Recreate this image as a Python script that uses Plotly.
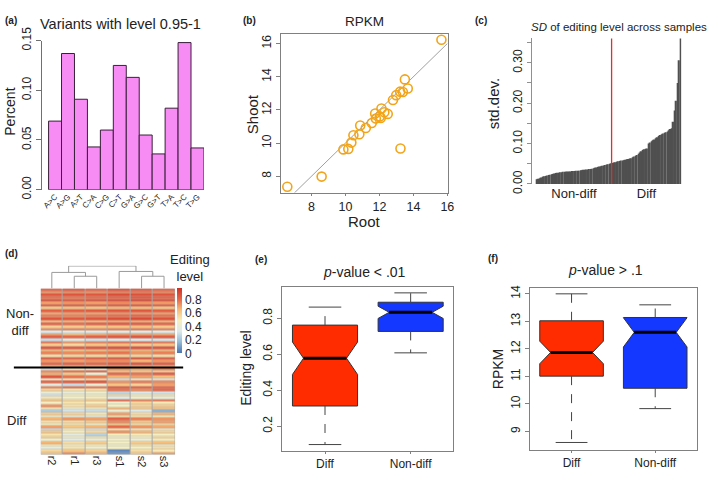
import plotly.graph_objects as go

W, H = 709, 477
def px(x): return x / W
def py(y): return 1 - y / H

FONT = "Liberation Sans, Arial, sans-serif"
TXT = "#222222"

# ---------------- (a) variants histogram ----------------
mut_types = ["A>C", "A>G", "A>T", "C>A", "C>G", "C>T", "G>A", "G>C", "G>T", "T>A", "T>C", "T>G"]
mut_percent = [0.069, 0.137, 0.091, 0.043, 0.060, 0.125, 0.113, 0.055, 0.036, 0.082, 0.148, 0.042]
a_yticks = [0.00, 0.05, 0.10, 0.15]

# ---------------- (b) RPKM root vs shoot ----------------
root_rpkm = [6.58, 8.60, 9.88, 10.17, 10.35, 10.47, 10.82, 10.87, 11.20, 11.55, 11.75, 11.79, 12.02,
             12.12, 12.08, 12.29, 12.49, 12.80, 12.99, 13.24, 13.22, 13.38, 13.50, 13.67, 15.65]
shoot_rpkm = [7.37, 7.98, 9.62, 9.65, 10.03, 10.47, 10.53, 11.06, 10.91, 11.21, 11.78, 11.48, 11.61,
              12.09, 11.52, 11.86, 11.76, 12.60, 12.89, 9.67, 13.10, 13.08, 13.84, 13.29, 16.23]
b_xrange = [6.22, 16.01]
b_yrange = [7.02, 16.58]
b_ticks = [8, 10, 12, 14, 16]

# ---------------- (c) SD of editing level ----------------
sd_nondiff = [0.012, 0.013, 0.014, 0.016, 0.018, 0.019, 0.020, 0.021, 0.022, 0.023,
              0.024, 0.025, 0.026, 0.027, 0.028, 0.028, 0.029, 0.029, 0.030, 0.030,
              0.030, 0.031, 0.031, 0.031, 0.032, 0.032, 0.032, 0.033, 0.033, 0.033,
              0.034, 0.034, 0.035, 0.035, 0.036, 0.036, 0.037, 0.037, 0.038, 0.039,
              0.040, 0.041, 0.042, 0.043, 0.044, 0.045, 0.046, 0.047, 0.048, 0.049,
              0.050, 0.051]
sd_diff = [0.052, 0.053, 0.054, 0.055, 0.056, 0.057, 0.058, 0.058, 0.059, 0.060,
           0.061, 0.062, 0.063, 0.064, 0.066, 0.068, 0.070, 0.072, 0.075, 0.078,
           0.081, 0.084, 0.086, 0.087, 0.088, 0.100, 0.103, 0.106, 0.108, 0.110,
           0.113, 0.116, 0.119, 0.121, 0.123, 0.125, 0.127, 0.128, 0.130, 0.133,
           0.136, 0.138, 0.154, 0.182, 0.206, 0.250, 0.306, 0.360]
c_yticks = [0.00, 0.05, 0.10, 0.15, 0.20, 0.25, 0.30, 0.35]
c_yticktext = ["0.00", "", "0.10", "", "0.20", "", "0.30", ""]
c_groups = ["Non-diff", "Diff"]

# ---------------- (d) heatmap ----------------
samples = ["r2", "r1", "r3", "s1", "s2", "s3"]
edit_nondiff = [
    [0.80, 0.82, 0.80, 0.84, 0.82, 0.80],
    [0.72, 0.74, 0.73, 0.76, 0.78, 0.75],
    [0.85, 0.86, 0.85, 0.88, 0.87, 0.86],
    [0.78, 0.77, 0.79, 0.80, 0.83, 0.80],
    [0.88, 0.87, 0.88, 0.90, 0.91, 0.89],
    [0.70, 0.72, 0.70, 0.74, 0.72, 0.71],
    [0.84, 0.85, 0.83, 0.86, 0.86, 0.84],
    [0.62, 0.64, 0.63, 0.66, 0.65, 0.63],
    [0.82, 0.83, 0.84, 0.85, 0.85, 0.83],
    [0.68, 0.70, 0.69, 0.72, 0.71, 0.70],
    [0.76, 0.75, 0.77, 0.79, 0.80, 0.78],
    [0.86, 0.85, 0.86, 0.88, 0.89, 0.87],
    [0.64, 0.66, 0.65, 0.68, 0.67, 0.66],
    [0.80, 0.79, 0.81, 0.83, 0.82, 0.80],
    [0.58, 0.60, 0.61, 0.62, 0.63, 0.60],
    [0.74, 0.76, 0.75, 0.77, 0.78, 0.76],
    [0.32, 0.35, 0.34, 0.36, 0.35, 0.34],
    [0.70, 0.64, 0.68, 0.72, 0.70, 0.69],
    [0.82, 0.80, 0.82, 0.84, 0.85, 0.83],
    [0.28, 0.36, 0.30, 0.33, 0.32, 0.31],
    [0.78, 0.72, 0.76, 0.79, 0.80, 0.78],
    [0.60, 0.56, 0.62, 0.64, 0.60, 0.62],
    [0.84, 0.83, 0.84, 0.86, 0.86, 0.85],
    [0.66, 0.62, 0.64, 0.68, 0.66, 0.66],
    [0.75, 0.74, 0.76, 0.78, 0.72, 0.76],
    [0.55, 0.58, 0.57, 0.60, 0.58, 0.56],
    [0.86, 0.84, 0.85, 0.87, 0.88, 0.86],
    [0.72, 0.70, 0.73, 0.74, 0.66, 0.72],
    [0.80, 0.81, 0.80, 0.83, 0.84, 0.82],
    [0.65, 0.67, 0.66, 0.70, 0.68, 0.67],
]
edit_diff = [
    [0.30, 0.45, 0.40, 0.72, 0.68, 0.75],
    [0.74, 0.80, 0.82, 0.62, 0.60, 0.58],
    [0.68, 0.62, 0.42, 0.80, 0.78, 0.82],
    [0.85, 0.78, 0.76, 0.66, 0.70, 0.64],
    [0.44, 0.50, 0.55, 0.30, 0.40, 0.35],
    [0.80, 0.82, 0.84, 0.72, 0.76, 0.74],
    [0.36, 0.28, 0.40, 0.62, 0.58, 0.70],
    [0.76, 0.80, 0.78, 0.86, 0.84, 0.82],
    [0.58, 0.52, 0.55, 0.78, 0.74, 0.80],
    [0.40, 0.38, 0.42, 0.26, 0.32, 0.30],
    [0.30, 0.48, 0.45, 0.55, 0.50, 0.52],
    [0.52, 0.46, 0.50, 0.34, 0.44, 0.40],
    [0.62, 0.56, 0.60, 0.80, 0.76, 0.78],
    [0.46, 0.52, 0.48, 0.42, 0.56, 0.50],
    [0.72, 0.54, 0.60, 0.48, 0.58, 0.60],
    [0.50, 0.42, 0.44, 0.66, 0.60, 0.62],
    [0.22, 0.30, 0.28, 0.40, 0.32, 0.14],
    [0.60, 0.58, 0.52, 0.70, 0.56, 0.66],
    [0.44, 0.40, 0.38, 0.54, 0.52, 0.48],
    [0.66, 0.72, 0.70, 0.82, 0.76, 0.72],
    [0.54, 0.56, 0.60, 0.74, 0.62, 0.70],
    [0.48, 0.52, 0.46, 0.62, 0.54, 0.56],
    [0.70, 0.62, 0.66, 0.80, 0.72, 0.68],
    [0.28, 0.42, 0.30, 0.50, 0.44, 0.40],
    [0.62, 0.50, 0.56, 0.72, 0.66, 0.58],
    [0.52, 0.36, 0.24, 0.48, 0.50, 0.46],
    [0.58, 0.48, 0.52, 0.44, 0.46, 0.56],
    [0.44, 0.34, 0.40, 0.46, 0.42, 0.50],
    [0.66, 0.54, 0.60, 0.46, 0.60, 0.64],
    [0.50, 0.46, 0.48, 0.45, 0.52, 0.40],
    [0.38, 0.52, 0.44, 0.46, 0.48, 0.54],
    [0.56, 0.62, 0.58, 0.05, 0.54, 0.50],
    [0.62, 0.74, 0.66, 0.08, 0.60, 0.70],
]
hm_ticks = [0, 0.2, 0.4, 0.6, 0.8]
hm_ticktext = ["0", "0.2", "0.4", "0.6", "0.8"]
hm_colorscale = [[0, "#4a72b0"], [1 / 6, "#93bad6"], [2 / 6, "#dde9ec"], [3 / 6, "#f7efbc"],
                 [4 / 6, "#f6bb78"], [5 / 6, "#e66446"], [1, "#cc3227"]]
# dendrogram merges: (left node, right node, height); leaves 0..5, new nodes 6,7,...
dendro_merges = [(1, 2, 38), (0, 6, 50), (4, 5, 38), (3, 8, 53), (7, 9, 70)]

# ---------------- (e) and (f) notched boxplots ----------------
box_groups = ["Diff", "Non-diff"]
box_colors = ["#ff2c00", "#1438ff"]
e_q1 = [0.312, 0.726]
e_med = [0.577, 0.832]
e_q3 = [0.761, 0.888]
e_lo = [0.098, 0.607]
e_hi = [0.861, 0.940]
e_notch = [0.090, 0.034]
e_yticks = [0.2, 0.4, 0.6, 0.8]
f_q1 = [11.01, 10.57]
f_med = [11.87, 12.60]
f_q3 = [13.02, 13.14]
f_lo = [8.60, 9.83]
f_hi = [14.00, 13.60]
f_notch = [0.41, 0.53]
f_yticks = [9, 10, 11, 12, 13, 14]

fig = go.Figure()

# ---- (a)
fig.add_trace(go.Bar(x=list(range(len(mut_types))), y=mut_percent, width=1,
                     marker=dict(color="#f78df4", line=dict(color="#3a1f3a", width=1)),
                     xaxis="x", yaxis="y", showlegend=False))

# ---- (b)
fig.add_trace(go.Scatter(x=b_xrange, y=b_xrange, mode="lines",
                         line=dict(color="#a0a0a0", width=1), xaxis="x2", yaxis="y2",
                         showlegend=False))
fig.add_trace(go.Scatter(x=root_rpkm, y=shoot_rpkm, mode="markers",
                         marker=dict(symbol="circle-open", size=9, color="#f2a51a",
                                     line=dict(width=1.6)),
                         xaxis="x2", yaxis="y2", showlegend=False))

# ---- (c)
sd_all = sd_nondiff + sd_diff
fig.add_trace(go.Bar(x=list(range(len(sd_all))), y=sd_all, width=1,
                     marker=dict(color="#505050", line=dict(width=0)),
                     xaxis="x3", yaxis="y3", showlegend=False))
split = len(sd_nondiff) - 0.5
fig.add_trace(go.Scatter(x=[split, split], y=[0, max(sd_all)], mode="lines",
                         line=dict(color="#e0302c", width=1.3), xaxis="x3", yaxis="y3",
                         showlegend=False))
c_tickpos = [(len(sd_nondiff) - 1) / 2, len(sd_nondiff) + (len(sd_diff) - 1) / 2]

# ---- (d)
z = edit_nondiff + edit_diff
nrows = len(z)
fig.add_trace(go.Heatmap(z=z, x=list(range(len(samples))), y=list(range(nrows)),
                         colorscale=hm_colorscale, zmin=0, zmax=0.97, xgap=1, ygap=0.4,
                         xaxis="x4", yaxis="y4",
                         colorbar=dict(x=px(179), xanchor="left", y=py(289), yanchor="top",
                                       len=68 / H, lenmode="fraction", thickness=5,
                                       outlinewidth=0, tickvals=hm_ticks, ticktext=hm_ticktext,
                                       ticks="", xpad=0, ypad=0,
                                       tickfont=dict(size=12, color=TXT, family=FONT))))
# dendrogram
pos = {i: float(i) for i in range(len(samples))}
hgt = {i: 0.0 for i in range(len(samples))}
dx, dy = [], []
for k, (l, r, h) in enumerate(dendro_merges):
    dx += [pos[l], pos[l], pos[r], pos[r], None]
    dy += [hgt[l], h, h, hgt[r], None]
    node = len(samples) + k
    pos[node] = (pos[l] + pos[r]) / 2
    hgt[node] = h
fig.add_trace(go.Scatter(x=dx, y=dy, mode="lines", line=dict(color="#9a9a9a", width=1),
                         xaxis="x5", yaxis="y5", showlegend=False))

# ---- (e), (f)
def add_boxes(xa, ya, q1, med, q3, lo, hi, notch, w=0.76, nw=0.17):
    for i in range(len(box_groups)):
        c = i + 1
        fig.add_trace(go.Box(x=[c], q1=[q1[i]], median=[med[i]], q3=[q3[i]],
                             lowerfence=[q1[i]], upperfence=[q3[i]], notched=True,
                             notchspan=[notch[i]], notchwidth=nw, width=w,
                             fillcolor=box_colors[i], line=dict(color="#333333", width=1),
                             whiskerwidth=0, boxpoints=False, xaxis=xa, yaxis=ya,
                             showlegend=False, hoverinfo="skip"))
        fig.add_trace(go.Scatter(x=[c, c, None, c, c], y=[q3[i], hi[i], None, q1[i], lo[i]],
                                 mode="lines", line=dict(color="#444444", width=1, dash="dash"),
                                 xaxis=xa, yaxis=ya, showlegend=False))
        fig.add_trace(go.Scatter(x=[c - w / 4, c + w / 4, None, c - w / 4, c + w / 4],
                                 y=[hi[i], hi[i], None, lo[i], lo[i]], mode="lines",
                                 line=dict(color="#444444", width=1),
                                 xaxis=xa, yaxis=ya, showlegend=False))
        hw = w / 2 * (1 - 2 * nw)
        fig.add_trace(go.Scatter(x=[c - hw, c + hw], y=[med[i], med[i]], mode="lines",
                                 line=dict(color="#000000", width=3),
                                 xaxis=xa, yaxis=ya, showlegend=False))

add_boxes("x6", "y6", e_q1, e_med, e_q3, e_lo, e_hi, e_notch)
add_boxes("x7", "y7", f_q1, f_med, f_q3, f_lo, f_hi, f_notch)

tickfont = dict(size=12, color=TXT, family=FONT)
frame = dict(showline=True, mirror=True, linecolor="#808080", linewidth=1)
noaxis = dict(showgrid=False, zeroline=False)

layout = dict(
    width=W, height=H, autosize=False,
    margin=dict(l=0, r=0, t=0, b=0),
    paper_bgcolor="white", plot_bgcolor="white",
    font=dict(family=FONT, color=TXT),
    showlegend=False,
    # (a)
    xaxis=dict(domain=[px(42), px(206)], range=[-1.04, 11.5], anchor="y", **noaxis,
               tickvals=list(range(len(mut_types))), ticktext=mut_types, tickangle=-45,
               ticks="", tickfont=dict(size=8, color=TXT, family=FONT)),
    yaxis=dict(domain=[py(185), py(28)], range=[0, 0.15], anchor="x", **noaxis,
               showline=True, linecolor="#707070", ticks="outside", ticklen=5,
               tickcolor="#707070", tickvals=a_yticks,
               ticktext=["%.2f" % v for v in a_yticks], tickangle=-90, tickfont=tickfont),
    # (b)
    xaxis2=dict(domain=[px(284), px(452)], range=b_xrange, anchor="y2", **noaxis, **frame,
                tickvals=b_ticks, ticks="outside", ticklen=2, tickcolor="#808080",
                tickfont=dict(size=12.5, color=TXT, family=FONT)),
    yaxis2=dict(domain=[py(188), py(21)], range=b_yrange, anchor="x2", **noaxis, **frame,
                tickvals=b_ticks, ticks="outside", ticklen=4, tickcolor="#808080",
                tickangle=-90, tickfont=tickfont),
    # (c)
    xaxis3=dict(domain=[px(537), px(688)], range=[-3.6, len(sd_all) - 0.5], anchor="y3",
                **noaxis, tickvals=c_tickpos, ticktext=c_groups, ticks="",
                tickfont=dict(size=13, color=TXT, family=FONT)),
    yaxis3=dict(domain=[py(179), py(25)], range=[0, 0.362], anchor="x3", **noaxis,
                showline=True, linecolor="#909090", ticks="outside", ticklen=4,
                tickcolor="#909090", tickvals=c_yticks, ticktext=c_yticktext,
                tickangle=-90, tickfont=tickfont),
    # (d) heatmap
    xaxis4=dict(domain=[px(41), px(177)], range=[-0.5, len(samples) - 0.5], anchor="y4",
                **noaxis, tickvals=list(range(len(samples))), ticktext=samples,
                tickangle=90, ticks="", tickfont=dict(size=11, color=TXT, family=FONT)),
    yaxis4=dict(domain=[py(464), py(289)], range=[nrows - 0.5, -0.5], anchor="x4",
                **noaxis, showticklabels=False, ticks=""),
    # dendrogram
    xaxis5=dict(domain=[px(41), px(177)], range=[-0.5, len(samples) - 0.5], anchor="y5",
                **noaxis, visible=False),
    yaxis5=dict(domain=[py(289), py(265)], range=[0, 71], anchor="x5", **noaxis,
                visible=False),
    # (e)
    xaxis6=dict(domain=[px(285), px(458)], range=[0.5, 2.5], anchor="y6", **noaxis, **frame,
                tickvals=[1, 2], ticktext=box_groups, ticks="outside", ticklen=2,
                tickcolor="#808080", tickfont=tickfont),
    yaxis6=dict(domain=[py(460), py(287)], range=[0.063, 0.975], anchor="x6", **noaxis,
                **frame, tickvals=e_yticks, ticks="outside", ticklen=4, tickcolor="#808080",
                tickangle=-90, tickfont=tickfont),
    # (f)
    xaxis7=dict(domain=[px(535), px(704)], range=[0.5, 2.5], anchor="y7", **noaxis, **frame,
                tickvals=[1, 2], ticktext=box_groups, ticks="outside", ticklen=2,
                tickcolor="#808080", tickfont=tickfont),
    yaxis7=dict(domain=[py(459), py(289)], range=[8.33, 14.195], anchor="x7", **noaxis,
                **frame, tickvals=f_yticks, ticks="outside", ticklen=4, tickcolor="#808080",
                tickangle=-90, tickfont=tickfont),
)
fig.update_layout(**layout)

# heatmap background (cell borders) and separator line
fig.add_shape(type="rect", xref="x4", yref="y4", x0=-0.5, x1=len(samples) - 0.5,
              y0=-0.5, y1=nrows - 0.5, fillcolor="#a8a8a8", line=dict(width=0), layer="below")
fig.add_shape(type="line", xref="paper", yref="y4", x0=px(14), x1=px(185),
              y0=len(edit_nondiff) - 0.5, y1=len(edit_nondiff) - 0.5,
              line=dict(color="black", width=2))

def ann(text, x, y, size=13, angle=0, bold=False, xanchor="center"):
    fig.add_annotation(text=("<b>%s</b>" % text) if bold else text, x=px(x), y=py(y),
                       xref="paper", yref="paper", showarrow=False, textangle=angle,
                       xanchor=xanchor, yanchor="middle",
                       font=dict(size=size, color=TXT, family=FONT))

ann("(a)", 3, 7, size=10, bold=True, xanchor="left")
ann("Variants with level 0.95-1", 122, 11, size=14.5)
ann("Percent", 10, 103, size=14, angle=-90)

ann("(b)", 243, 7, size=10, bold=True, xanchor="left")
ann("RPKM", 368, 8, size=13.5)
ann("Shoot", 255, 105, size=15, angle=-90)
ann("Root", 368, 219, size=15)

ann("(c)", 478, 7, size=10, bold=True, xanchor="left")
ann("<i>SD</i> of editing level across samples", 625, 14, size=11.5)
ann("std.dev.", 498, 95, size=15, angle=-90)

ann("(d)", 3, 252, size=10, bold=True, xanchor="left")
ann("Editing<br>level", 192, 267, size=13)
ann("Non-<br>diff", 20, 324, size=13)
ann("Diff", 17, 428, size=13)

ann("(e)", 256, 258, size=10, bold=True, xanchor="left")
ann("<i>p</i>-value &lt; .01", 368, 272, size=14)
ann("Editing level", 249, 373, size=14, angle=-90)

ann("(f)", 491, 257, size=10, bold=True, xanchor="left")
ann("<i>p</i>-value &gt; .1", 612, 270, size=14)
ann("RPKM", 503, 374, size=14, angle=-90)

fig.write_html("out.html", config={"displayModeBar": False},
               post_script="document.body.style.margin='0px';")
